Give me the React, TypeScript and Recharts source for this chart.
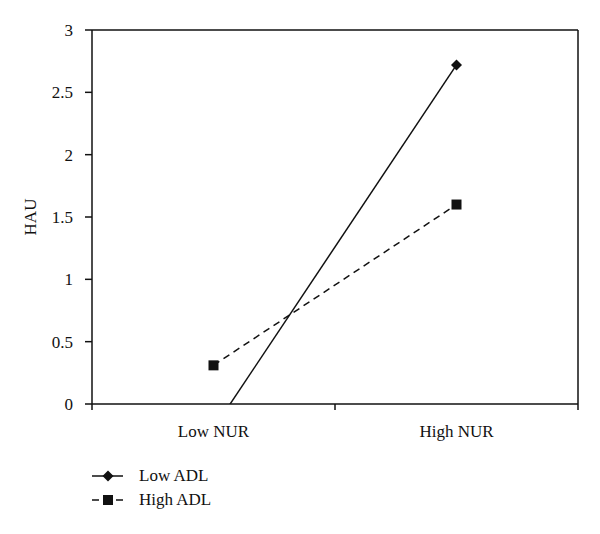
import React from "react";
import { LineChart, Line, XAxis, YAxis, Legend, ReferenceLine } from "recharts";

// categories and series values
const categories = ["Low NUR", "High NUR"];
const categoryPos = [0.5, 1.5];
const lowAdl = [-0.2, 2.72];
const highAdl = [0.31, 1.6];
const yTicks = [0, 0.5, 1, 1.5, 2, 2.5, 3];
const xTicks = [0, 0.5, 1, 1.5, 2];

const data = categories.map((name, i) => ({
  name,
  x: categoryPos[i],
  lowAdl: lowAdl[i],
  highAdl: highAdl[i],
}));

const FONT = "'Liberation Serif', 'DejaVu Serif', serif";
const INK = "#111";
const FS = 17;

function Diamond({ cx, cy }: any) {
  if (cx == null || cy == null) return null;
  const r = 5.5;
  return (
    <path
      d={`M${cx},${cy - r} L${cx + r},${cy} L${cx},${cy + r} L${cx - r},${cy} Z`}
      fill={INK}
    />
  );
}

function Square({ cx, cy }: any) {
  if (cx == null || cy == null) return null;
  const s = 10;
  return <rect x={cx - s / 2} y={cy - s / 2} width={s} height={s} fill={INK} />;
}

// x axis: tick marks on band edges, labels at band centres
function XTick({ x, y, payload }: any) {
  const v = payload.value;
  if (Number.isInteger(v)) {
    return <line x1={x} x2={x} y1={y - 6} y2={y} stroke={INK} strokeWidth={1.5} />;
  }
  const idx = categoryPos.indexOf(v);
  return (
    <text x={x} y={y + 27} textAnchor="middle" fill={INK} fontSize={FS} fontFamily={FONT}>
      {categories[idx]}
    </text>
  );
}

function LegendBox() {
  return (
    <div style={{ fontFamily: FONT, fontSize: FS, color: INK }}>
      <div style={{ display: "flex", alignItems: "center", height: 24 }}>
        <svg width={32} height={14} style={{ marginRight: 15 }}>
          <line x1={0} x2={31} y1={7} y2={7} stroke={INK} strokeWidth={1.5} />
          <path d="M16,1.5 L21.5,7 L16,12.5 L10.5,7 Z" fill={INK} />
        </svg>
        <span>Low ADL</span>
      </div>
      <div style={{ display: "flex", alignItems: "center", height: 24 }}>
        <svg width={32} height={14} style={{ marginRight: 15 }}>
          <line x1={0} x2={7} y1={7} y2={7} stroke={INK} strokeWidth={1.5} />
          <rect x={11} y={2} width={10} height={10} fill={INK} />
          <line x1={24} x2={31} y1={7} y2={7} stroke={INK} strokeWidth={1.5} />
        </svg>
        <span>High ADL</span>
      </div>
    </div>
  );
}

export default function App() {
  return (
    <div style={{ position: "absolute", left: 0, top: 0, width: 600, height: 534, background: "#fff" }}>
      <LineChart
        width={600}
        height={534}
        data={data}
        margin={{ top: 30, right: 22, left: 0, bottom: 0 }}
        style={{ fontFamily: FONT }}
      >
        <XAxis
          dataKey="x"
          type="number"
          domain={[0, 2]}
          ticks={xTicks}
          interval={0}
          height={130}
          tickSize={6}
          tickMargin={0}
          tickLine={false}
          tick={<XTick />}
          stroke={INK}
          strokeWidth={1.5}
        />
        <YAxis
          domain={[0, 3]}
          ticks={yTicks}
          allowDataOverflow
          width={92}
          tickSize={7}
          tickMargin={12}
          stroke={INK}
          strokeWidth={1.5}
          tick={{ fill: INK, fontSize: FS, fontFamily: FONT }}
          label={{ value: "HAU", angle: -90, position: "center", dx: -16, fill: INK, fontSize: FS, fontFamily: FONT }}
        />
        <ReferenceLine y={3} stroke={INK} strokeWidth={1.5} />
        <ReferenceLine x={2} stroke={INK} strokeWidth={1.5} />
        <Legend
          layout="vertical"
          align="center"
          verticalAlign="middle"
          wrapperStyle={{ position: "absolute", left: 92, top: 464, width: 200 }}
          content={<LegendBox />}
        />
        <Line
          dataKey="lowAdl"
          name="Low ADL"
          stroke={INK}
          strokeWidth={1.5}
          dot={<Diamond />}
          activeDot={false}
          isAnimationActive={false}
        />
        <Line
          dataKey="highAdl"
          name="High ADL"
          stroke={INK}
          strokeWidth={1.5}
          strokeDasharray="7 5"
          dot={<Square />}
          activeDot={false}
          isAnimationActive={false}
        />
      </LineChart>
    </div>
  );
}
